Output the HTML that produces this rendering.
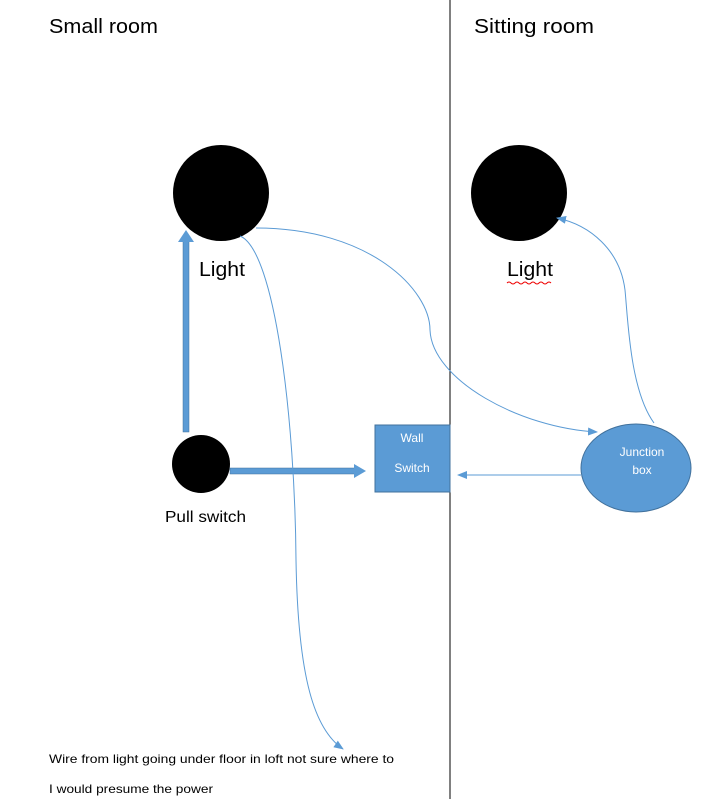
<!DOCTYPE html>
<html><head><style>
body{margin:0;background:#fff}
svg text{font-family:"Liberation Sans",Calibri,sans-serif}
</style></head><body>
<svg width="714" height="799" viewBox="0 0 714 799" xmlns="http://www.w3.org/2000/svg">
<defs>
<marker id="a" markerWidth="10" markerHeight="8" refX="9" refY="4" orient="auto" markerUnits="userSpaceOnUse"><path d="M0,0 L10,4 L0,8 z" fill="#5b9bd5"/></marker>
</defs>
<line x1="450" y1="0" x2="450" y2="799" stroke="#000" stroke-width="1"/>
<text x="49" y="33" font-size="20" textLength="109" lengthAdjust="spacingAndGlyphs">Small room</text>
<text x="474" y="33" font-size="20" textLength="120" lengthAdjust="spacingAndGlyphs">Sitting room</text>
<circle cx="221" cy="193" r="48" fill="#000"/>
<circle cx="519" cy="193" r="48" fill="#000"/>
<circle cx="201" cy="464" r="29" fill="#000"/>
<text x="199" y="276" font-size="20" textLength="46" lengthAdjust="spacingAndGlyphs">Light</text>
<text x="507" y="276" font-size="20" textLength="46" lengthAdjust="spacingAndGlyphs">Light</text>
<path d="M507,283 q2,-2 4,0 t4,0 t4,0 t4,0 t4,0 t4,0 t4,0 t4,0 t4,0 t4,0 t4,0" stroke="#e00" fill="none" stroke-width="1"/>
<text x="165" y="522" font-size="16" textLength="81" lengthAdjust="spacingAndGlyphs">Pull switch</text>
<rect x="183" y="240" width="6" height="192" fill="#5b9bd5" stroke="#41719c" stroke-width="0.5"/>
<path d="M178,242 L186,230 L194,242 z" fill="#5b9bd5"/>
<rect x="230" y="468" width="126" height="6" fill="#5b9bd5" stroke="#41719c" stroke-width="0.5"/>
<path d="M354,464 L366,471 L354,478 z" fill="#5b9bd5"/>
<rect x="375" y="425" width="75" height="67" fill="#5b9bd5" stroke="#41719c" stroke-width="1"/>
<text x="412" y="442" font-size="12" fill="#fff" text-anchor="middle">Wall</text>
<text x="412" y="472" font-size="12" fill="#fff" text-anchor="middle">Switch</text>
<ellipse cx="636" cy="468" rx="55" ry="44" fill="#5b9bd5" stroke="#41719c" stroke-width="1"/>
<text x="642" y="456" font-size="12" fill="#fff" text-anchor="middle">Junction</text>
<text x="642" y="474" font-size="12" fill="#fff" text-anchor="middle">box</text>
<g stroke="#5b9bd5" fill="none" stroke-width="1">
<path d="M256,228 C370,228 430,290 430,330 C432,380 520,428 597,432" marker-end="url(#a)"/>
<path d="M240,236 C275,250 295,420 296,560 C298,680 315,730 343,749" marker-end="url(#a)"/>
<path d="M654,423 C630,390 628,320 625,290 C620,250 590,225 557,218" marker-end="url(#a)"/>
<path d="M581,475 L458,475" marker-end="url(#a)"/>
</g>
<text x="49" y="763" font-size="12" textLength="345" lengthAdjust="spacingAndGlyphs">Wire from light going under floor in loft not sure where to</text>
<text x="49" y="793" font-size="12" textLength="164" lengthAdjust="spacingAndGlyphs">I would presume the power</text>
</svg>
</body></html>
